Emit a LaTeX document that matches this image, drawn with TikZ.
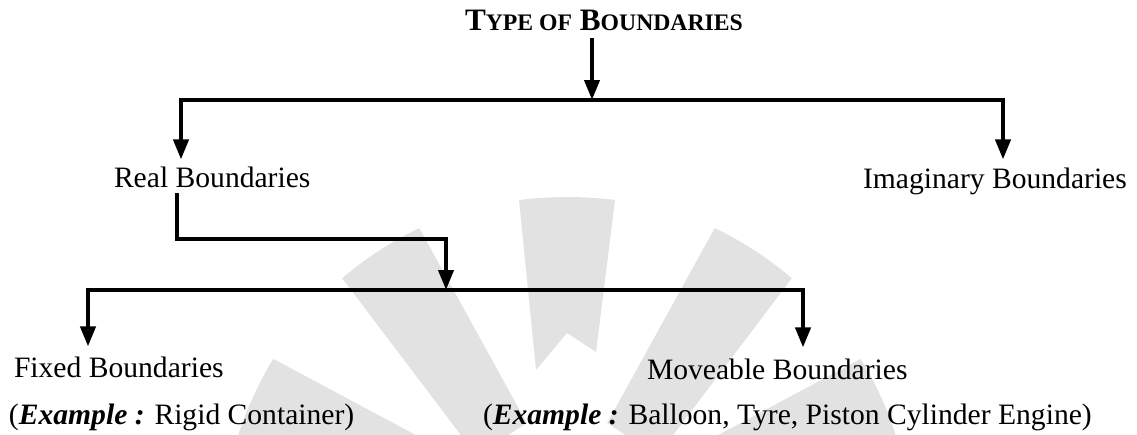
\documentclass[tikz,border=0pt]{standalone}
\usepackage{fontspec}
\setmainfont{Liberation Serif}
\usetikzlibrary{arrows.meta}
\definecolor{wm}{RGB}{226,226,226}
\newcommand{\smc}[1]{{\fontsize{23.7}{27}\selectfont #1}}
\newcommand{\exlead}{{\bfseries\itshape Example :}}
\begin{document}
\begin{tikzpicture}[x=1pt,y=-1pt,
  lbl/.style={inner sep=0pt,outer sep=0pt,font=\fontsize{29.6}{34}\selectfont},
  arr/.style={line width=4pt,line join=miter,-{Triangle[length=20pt,width=15pt]}},
  ray/.style={fill=wm,draw=none}]
\useasboundingbox (0,0) rectangle (1137,434);
% watermark fan
\foreach \a/\rin in {66/120,33/120,-33/120,-66/120}{
  \begin{scope}[shift={(567,540)},rotate=\a]
    \fill[ray] (-30,-\rin) -- (-46,-342) .. controls (-16,-346) and (16,-346) .. (46,-342) -- (30,-\rin) -- cycle;
  \end{scope}
}
\begin{scope}[shift={(567,540)}]
  \fill[ray] (-31,-170) -- (-48,-340) .. controls (-16,-344) and (16,-344) .. (48,-340) -- (29,-188) -- (0,-207) -- cycle;
\end{scope}
% labels
\node[lbl,anchor=base,font=\fontsize{31.2}{36}\selectfont] (title) at (604,30) {\bfseries T\smc{YPE OF} B\smc{OUNDARIES}};
\node[lbl,anchor=base west] (real) at (114,187) {Real Boundaries};
\node[lbl,anchor=base west] (imag) at (863,188) {Imaginary Boundaries};
\node[lbl,anchor=base west] (fixed) at (14,377) {Fixed Boundaries};
\node[lbl,anchor=base west] (move) at (647,379) {Moveable Boundaries};
\node[lbl,anchor=base west] (exfixed) at (9,424) {(\exlead{} Rigid Container)};
\node[lbl,anchor=base west] (exmove) at (483,424) {(\exlead{} Balloon, Tyre, Piston Cylinder Engine)};
% junction coordinates
\coordinate (ta) at (592,100);
\coordinate (rl) at (181,100);
\coordinate (ir) at (1003,100);
\coordinate (rb) at (177,239);
\coordinate (mj) at (446,290);
\coordinate (fl) at (88,290);
\coordinate (mr) at (803,290);
% connectors
\draw[arr] ([yshift=-8pt]title.south -| ta) -- (ta);
\draw[arr] (ir) -- (rl) -- ([yshift=7pt]real.north -| rl);
\draw[arr] (rl) -- (ir) -- ([yshift=8pt]imag.north -| ir);
\draw[arr] ([yshift=-6pt]real.south -| rb) -- (rb) -| (mj);
\draw[arr] (mr) -- (fl) -- ([yshift=10pt]fixed.north -| fl);
\draw[arr] (fl) -- (mr) -- ([yshift=11pt]move.north -| mr);
\end{tikzpicture}
\end{document}
